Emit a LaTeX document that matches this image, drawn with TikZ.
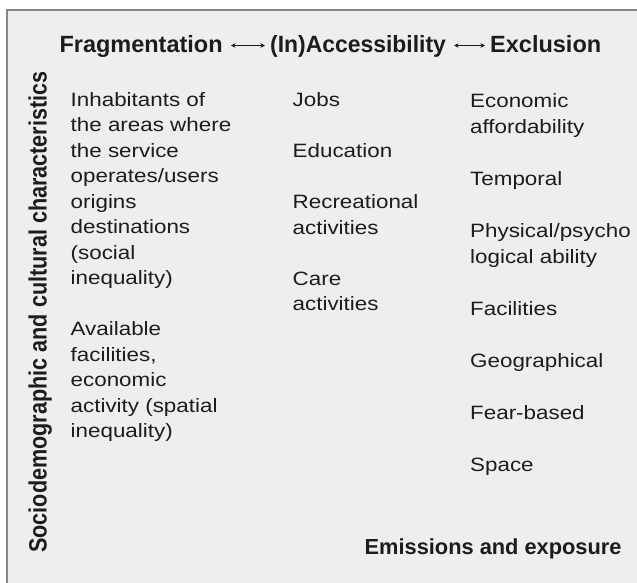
\documentclass[tikz,border=0pt]{standalone}
\usepackage{fontspec}
\setmainfont{Liberation Sans}
% slightly widened face for the body columns
\newfontfamily\bodyfont[FakeStretch=1.16]{Liberation Sans}
\usetikzlibrary{arrows.meta}
\definecolor{panel}{HTML}{EEEEEE}
\definecolor{rulecol}{HTML}{80868B}
\definecolor{ink}{HTML}{1C1C1C}

\begin{document}
\begin{tikzpicture}[x=1pt,y=-1pt,
  head/.style={anchor=base west, inner sep=0pt, text=ink,
    font=\bfseries\fontsize{23.5}{28}\selectfont},
  boldlbl/.style={anchor=base west, inner sep=0pt, text=ink,
    font=\bfseries\fontsize{21.8}{26}\selectfont},
  colA/.style={anchor=base west, inner sep=0pt, text=ink,
    font=\bodyfont\fontsize{19.3}{25.5}\selectfont},
  colB/.style={anchor=base west, inner sep=0pt, text=ink,
    font=\bodyfont\fontsize{19.3}{26}\selectfont},
  link/.style={{Stealth[length=4.5pt,width=4.5pt]}-{Stealth[length=4.5pt,width=4.5pt]},
    line width=1.1pt, draw=ink, shorten <=8pt, shorten >=5pt}
]
\useasboundingbox (0,0) rectangle (637,582);
\fill[white] (0,0) rectangle (637,582);
% framed panel
\filldraw[fill=panel, draw=rulecol, line width=1.5pt] (7,10) rectangle (660,600);

% header row
\node[head] (frag) at (59.3,52.5) {Fragmentation};
\node[head] (acc)  at (270,52.5)  {\scalebox{0.975}[1]{(In)Accessibility}};
\node[head] (excl) at (490,52.5)  {Exclusion};
\draw[link] ([yshift=7pt]frag.base east) -- ([yshift=7pt]acc.base west);
\draw[link] ([yshift=7pt]acc.base east) -- ([yshift=7pt]excl.base west);

% vertical side label
\node[rotate=90, anchor=base west, inner sep=0pt, text=ink,
  font=\bfseries\fontsize{21.6}{26}\selectfont] (socio) at (46.5,553)
  {\scalebox{1}[1.16]{Sociodemographic and cultural characteristics}};

% fragmentation column
\node[colA] (fragtxt) at (70.5,106) {\begin{tabular}[t]{@{}l@{}}
Inhabitants of\\ the areas where\\ the service\\ operates/users\\ origins\\
destinations\\ (social\\ inequality)\\ \\ Available\\ facilities,\\ economic\\
activity (spatial\\ inequality)\end{tabular}};

% accessibility column
\node[colA] (acctxt) at (292.5,106.5) {\begin{tabular}[t]{@{}l@{}}
Jobs\\ \\ Education\\ \\ Recreational\\ activities\\ \\ Care\\ activities
\end{tabular}};

% exclusion column
\node[colB] (excltxt) at (470,107) {\begin{tabular}[t]{@{}l@{}}
Economic\\ affordability\\ \\ Temporal\\ \\ Physical/psycho\\ logical ability\\ \\
Facilities\\ \\ Geographical\\ \\ Fear-based\\ \\ Space
\end{tabular}};

% bottom label
\node[boldlbl] (emis) at (364.5,554) {Emissions and exposure};
\end{tikzpicture}
\end{document}
